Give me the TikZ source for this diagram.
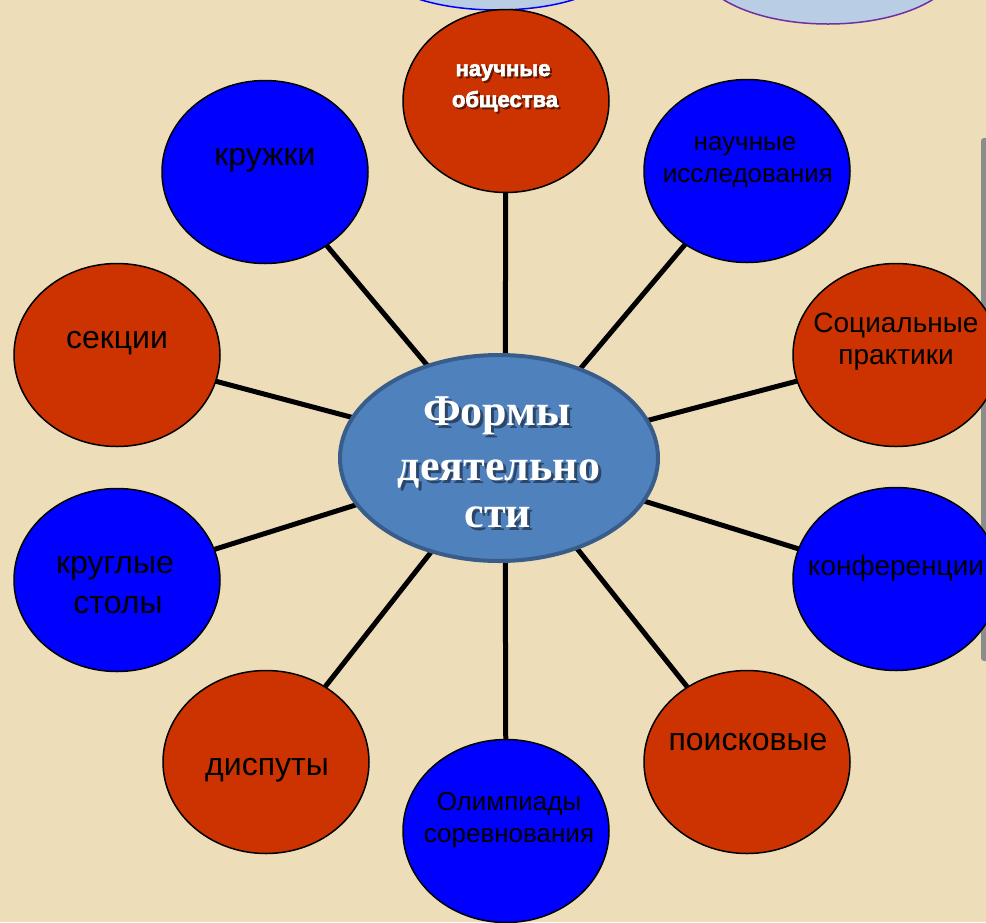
\documentclass[tikz,border=0pt]{standalone}
\usepackage{fontspec}
\setmainfont{Liberation Sans}
\newfontfamily\serifbold{Liberation Serif}
\newfontfamily\heavyfont{Liberation Sans Bold}[FakeBold=3]
\usetikzlibrary{shapes.geometric,backgrounds}
\definecolor{bgc}{HTML}{EDDDB9}
\definecolor{redc}{HTML}{CC3300}
\definecolor{bluec}{HTML}{0000FF}
\definecolor{hubfill}{HTML}{4F81BD}
\definecolor{hubline}{HTML}{385D8A}
\definecolor{paleblue}{HTML}{B9CDE5}
\definecolor{purp}{HTML}{7030A0}
\definecolor{barc}{HTML}{8C8C8C}
\newcommand\darktxt[5]{%
  \node[txt=#4, text=black] (#1) at (#2,#3) {#5};}
\newcommand\lighttxt[6]{%
  \node[txt=#4, text=black, text opacity=0.45] (#1s) at (#2+#5,#3+#5) {#6};
  \node[txt=#4, text=white] (#1) at (#2,#3) {#6};}
\begin{document}
\begin{tikzpicture}[x=1pt,y=-1pt,
  sat/.style={ellipse, draw=black, line width=1.5pt, minimum width=206pt, minimum height=183pt, inner sep=0pt},
  redsat/.style={sat, fill=redc},
  bluesat/.style={sat, fill=bluec},
  txt/.style={anchor=base, inner sep=0pt, font=\fontsize{#1}{#1}\selectfont},
  link/.style={line width=5pt, draw=black}]
\useasboundingbox (0,0) rectangle (986,922);

% partial shapes at the top
\node[ellipse, draw=bluec, line width=1.5pt, fill=paleblue, minimum width=240pt, minimum height=90pt, inner sep=0pt] (topa) at (497,-35) {};
\node[ellipse, draw=purp, line width=1.5pt, fill=paleblue, minimum width=260pt, minimum height=120pt, inner sep=0pt] (topb) at (828,-36) {};

% satellites
\node[redsat]  (obsh)  at (506,101) {};
\node[bluesat] (kruzh) at (265,172) {};
\node[bluesat] (issl)  at (747,171) {};
\node[redsat]  (sekc)  at (117,355) {};
\node[redsat]  (soc)   at (896,355) {};
\node[bluesat] (stol)  at (117,580) {};
\node[bluesat] (konf)  at (896,579) {};
\node[redsat]  (disp)  at (266,762) {};
\node[redsat]  (poisk) at (747,762) {};
\node[bluesat] (olimp) at (506,831) {};

% hub
\node[ellipse, fill=hubfill, draw=hubline, line width=4pt, minimum width=318pt, minimum height=206pt, inner sep=0pt] (hub) at (499,458) {};
\coordinate (hubc) at (505,458);

\begin{pgfonlayer}{background}
  \fill[bgc] (0,0) rectangle (986,922);
  \fill[barc, rounded corners=3pt] (981,138) rectangle (995,661);
  \foreach \s in {obsh,kruzh,issl,sekc,soc,stol,konf,disp,poisk,olimp}
    \draw[link] (hubc) -- (\s.center);
\end{pgfonlayer}

% labels
\lighttxt{tobsha}{503}{76}{22}{2}{\heavyfont научные}
\lighttxt{tobshb}{505}{107}{22}{2}{\heavyfont общества}
\darktxt{tkruzh}{265}{165}{32}{кружки}
\darktxt{tissla}{745}{150}{26}{научные}
\darktxt{tisslb}{748}{182}{26}{исследования}
\darktxt{tsekc}{117}{348}{32}{секции}
\darktxt{tsoca}{896}{332}{28}{Социальные}
\darktxt{tsocb}{896}{364}{28}{практики}
\darktxt{tstola}{115}{573}{32}{круглые}
\darktxt{tstolb}{118}{613}{32}{столы}
\darktxt{tkonf}{896}{575}{28}{конференции}
\darktxt{tdisp}{267}{775}{32}{диспуты}
\darktxt{tpoisk}{748}{750}{32}{поисковые}
\darktxt{tolimpa}{509}{810}{26}{Олимпиады}
\darktxt{tolimpb}{509}{842}{26}{соревнования}
\lighttxt{thuba}{497}{425}{44}{3}{\serifbold\bfseries Формы}
\lighttxt{thubb}{499}{480}{44}{3}{\serifbold\bfseries деятельно}
\lighttxt{thubc}{498}{527}{44}{3}{\serifbold\bfseries сти}
\end{tikzpicture}
\end{document}
